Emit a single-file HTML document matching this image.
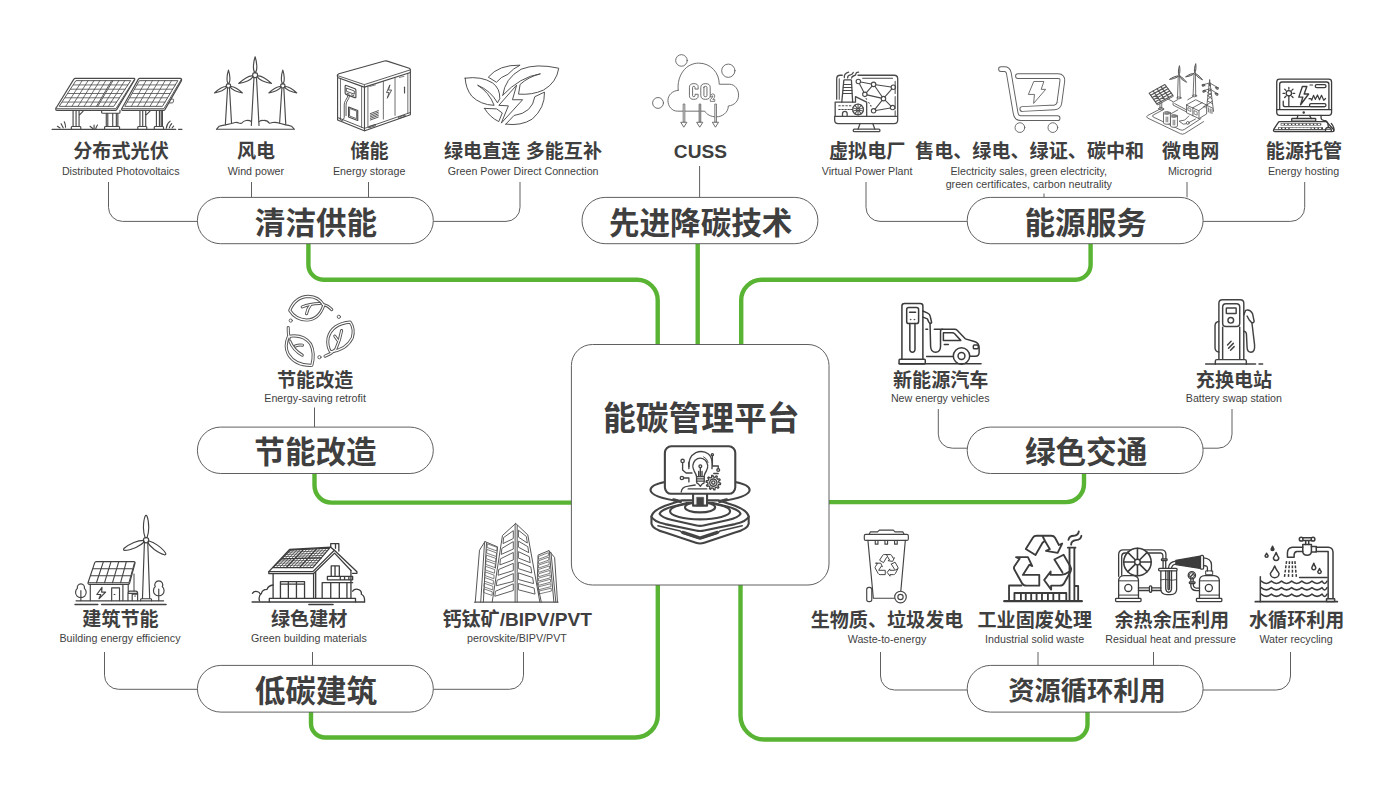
<!DOCTYPE html>
<html lang="zh"><head><meta charset="utf-8"><title>能碳管理平台</title>
<style>
html,body{margin:0;padding:0;background:#fff}
body{width:1400px;height:787px;position:relative;overflow:hidden;font-family:"Liberation Sans",sans-serif}
svg{position:absolute;left:0;top:0;display:block}
.t span{position:absolute;white-space:nowrap;color:transparent;overflow:hidden}
#text text{font-family:"Liberation Sans","Noto Sans CJK SC",sans-serif;fill:#3f3f3f;text-anchor:middle}
#text .c{font-size:19.1px;font-weight:700}
#text .e{font-size:10.7px;font-weight:400}
#text .h{font-size:30.6px;font-weight:700}
</style></head><body>
<svg width="1400" height="787" viewBox="0 0 1400 787">
<g id="structure"><path d="M308.4 243.5V264.7a15 15 0 0 0 15 15H637.2a20.5 20.5 0 0 1 20.5 20.5V344.5" fill="none" stroke="#58B432" stroke-width="4.4"/>
<path d="M697.7 243.5V344.5" fill="none" stroke="#58B432" stroke-width="4.4"/>
<path d="M1090.6 243.5V264.7a15 15 0 0 1 -15 15H761.7a20.5 20.5 0 0 0 -20.5 20.5V344.5" fill="none" stroke="#58B432" stroke-width="4.4"/>
<path d="M314.5 473.4V485.6a17 17 0 0 0 17 17H571.5" fill="none" stroke="#58B432" stroke-width="4.4"/>
<path d="M1084 473.4V484.1a18 18 0 0 1 -18 18H829" fill="none" stroke="#58B432" stroke-width="4.4"/>
<path d="M311 712V723.5a14 14 0 0 0 14 14H635.3a22.5 22.5 0 0 0 22.5 -22.5V585" fill="none" stroke="#58B432" stroke-width="4.4"/>
<path d="M1087.5 712V724.5a15 15 0 0 1 -15 15H764.5a24 24 0 0 1 -24 -24V585" fill="none" stroke="#58B432" stroke-width="4.4"/>
<path d="M108.5 182.0V207.4a14 14 0 0 0 14 14H197.4" fill="none" stroke="#606060" stroke-width="1"/>
<path d="M251.5 182.0V197.4" fill="none" stroke="#606060" stroke-width="1"/>
<path d="M368.5 182.0V197.4" fill="none" stroke="#606060" stroke-width="1"/>
<path d="M520.0 182.0V207.4a14 14 0 0 1 -14 14H433.3" fill="none" stroke="#606060" stroke-width="1"/>
<path d="M699.6 166.0V197.4" fill="none" stroke="#606060" stroke-width="1"/>
<path d="M866.0 182.0V207.4a14 14 0 0 0 14 14H967.2" fill="none" stroke="#606060" stroke-width="1"/>
<path d="M1044.0 193.5V197.4" fill="none" stroke="#606060" stroke-width="1"/>
<path d="M1187.0 182.0V197.4" fill="none" stroke="#606060" stroke-width="1"/>
<path d="M1304.7 182.0V207.4a14 14 0 0 1 -14 14H1203.1" fill="none" stroke="#606060" stroke-width="1"/>
<path d="M314.5 407.5V427.0" fill="none" stroke="#606060" stroke-width="1"/>
<path d="M938.3 409.0V434.2a14 14 0 0 0 14 14H967.2" fill="none" stroke="#606060" stroke-width="1"/>
<path d="M1232.0 409.0V434.2a14 14 0 0 1 -14 14H1203.1" fill="none" stroke="#606060" stroke-width="1"/>
<path d="M104.5 652.0V675.3a14 14 0 0 0 14 14H197.4" fill="none" stroke="#606060" stroke-width="1"/>
<path d="M312.5 652.0V665.5" fill="none" stroke="#606060" stroke-width="1"/>
<path d="M523.5 652.0V675.3a14 14 0 0 1 -14 14H433.3" fill="none" stroke="#606060" stroke-width="1"/>
<path d="M880.5 652.0V676.0a14 14 0 0 0 14 14H967.2" fill="none" stroke="#606060" stroke-width="1"/>
<path d="M1038.0 652.0V665.5" fill="none" stroke="#606060" stroke-width="1"/>
<path d="M1153.5 652.0V665.5" fill="none" stroke="#606060" stroke-width="1"/>
<path d="M1290.5 652.0V676.0a14 14 0 0 1 -14 14H1203.1" fill="none" stroke="#606060" stroke-width="1"/>
<rect x="197.4" y="197.4" width="235.9" height="46.3" rx="23.1" fill="#fff" stroke="#606060" stroke-width="1"/>
<rect x="582.0" y="197.4" width="235.9" height="46.3" rx="23.1" fill="#fff" stroke="#606060" stroke-width="1"/>
<rect x="967.2" y="197.4" width="235.9" height="46.3" rx="23.1" fill="#fff" stroke="#606060" stroke-width="1"/>
<rect x="197.4" y="427.1" width="235.9" height="46.4" rx="23.2" fill="#fff" stroke="#606060" stroke-width="1"/>
<rect x="967.2" y="427.1" width="235.9" height="46.4" rx="23.2" fill="#fff" stroke="#606060" stroke-width="1"/>
<rect x="197.4" y="665.4" width="235.9" height="46.7" rx="23.4" fill="#fff" stroke="#606060" stroke-width="1"/>
<rect x="967.2" y="665.4" width="235.9" height="46.7" rx="23.4" fill="#fff" stroke="#606060" stroke-width="1"/>
<rect x="571.4" y="344.5" width="257.6" height="240.5" rx="21" fill="#fff" stroke="#606060" stroke-width="1"/></g>
<g id="icons" fill="none" stroke="#4a4a4a" stroke-width="1.1" stroke-linecap="round" stroke-linejoin="round"><g transform="translate(45 65) scale(0.10714)" stroke-width="10.73"><path d="M282 125H830Q842 127 836 140L672 412Q668 420 658 424H112Q98 422 100 408Q102 400 108 394L268 134Q274 126 282 125Z"/><path d="M106 408H662L836 132" stroke-width="8.40"/><path d="M292 146H800L642 386H136Z" stroke-width="8.40"/><path d="M622 146L480 386M634 146L492 386" stroke-width="8.40"/><path d="M347 146L193 386M402 146L251 386M457 146L308 386M512 146L365 386M567 146L423 386M266 186L598 186M240 226L575 226M214 266L551 266M188 306L527 306M162 346L504 346" stroke-width="7.47"/><path d="M689 146L542 386M745 146L592 386M610 186L774 186M587 226L747 226M563 266L721 266M539 306L695 306M516 346L668 346" stroke-width="7.47"/><path d="M884 125H1262Q1280 128 1274 146L1122 412Q1116 424 1104 424H722Q712 422 716 408L870 134Q876 126 884 125Z"/><path d="M720 408H1110L1272 134" stroke-width="8.40"/><path d="M884 146H1240L1096 386H748Z" stroke-width="8.40"/><path d="M943 146L806 386M1003 146L864 386M1062 146L922 386M1121 146L980 386M1181 146L1038 386M861 186L1216 186M839 226L1192 226M816 266L1168 266M793 306L1144 306M771 346L1120 346" stroke-width="7.47"/><path d="M1180 318H1196Q1202 320 1200 330L1196 348Q1194 354 1186 354H1160" stroke-width="8.40"/><path d="M262 428V574M290 428V574M318 428V574M246 598V580Q246 574 254 574H326Q334 574 334 580V598M318 470L356 430"/><path d="M528 428V440Q528 450 540 450H690Q700 450 700 440V424M572 452V574M586 452V574M632 452V574M666 452V574M680 452V574M556 598V582Q556 574 566 574H686Q696 574 696 582V598"/><path d="M886 428V574M912 428V574M940 428V574M866 598V580Q866 574 874 574H942Q950 574 950 580V598M940 470L980 430"/><path d="M1040 428V574M1068 428V574M1084 428V574M1096 424V574M1020 598V580Q1020 574 1028 574H1098Q1106 574 1106 580V598"/><path d="M66 600H1220M1246 600H1278" stroke-width="12.13"/><path d="M116 572L140 588M150 548L170 586M180 530Q192 556 192 580M420 572L446 592M458 560V596M490 560Q478 576 474 594M1132 590Q1136 548 1168 524M1160 588Q1164 564 1182 548M1186 588L1200 570"/></g>
<g transform="translate(205 50) scale(0.11442)" stroke-width="10.05"><circle cx="438" cy="220" r="22"/><path d="M438 200C463 179 452 101 438 59C424 101 413 179 438 200Z"/><path d="M456 229C463 261 537 286 581 293C550 262 486 216 456 229Z"/><path d="M420 229C390 216 326 262 295 293C339 286 413 261 420 229Z"/><circle cx="205" cy="313" r="19"/><path d="M205 296C226 278 217 212 205 176C193 212 184 278 205 296Z"/><path d="M220 321C227 348 290 369 327 375C300 349 246 310 220 321Z"/><path d="M190 321C164 310 110 349 83 375C120 369 183 348 190 321Z"/><circle cx="680" cy="313" r="19"/><path d="M680 296C701 278 692 212 680 176C668 212 659 278 680 296Z"/><path d="M695 321C702 348 765 369 802 375C775 349 721 310 695 321Z"/><path d="M665 321C639 310 585 349 558 375C595 369 658 348 665 321Z"/><path d="M428 243L405 660M450 243L472 660"/><path d="M197 332L178 652M214 332L232 640"/><path d="M672 332L652 640M689 332L706 652"/><path d="M100 693H782L756 666Q730 656 706 654L652 640Q620 628 590 634Q575 640 562 640Q545 612 510 616Q490 614 472 626M100 693L124 666Q140 660 178 654L232 642L264 634Q280 630 296 638Q305 642 320 640Q335 620 360 616Q390 612 405 626"/></g>
<g transform="translate(325 50) scale(0.11442)" stroke-width="10.05"><path d="M122 208L520 96Q532 93 544 97L736 160Q748 166 746 178V196L352 322Q344 325 336 322L116 242Q108 238 108 228V220Q110 212 122 208Z"/><path d="M110 224L336 300Q344 303 352 300L744 174" stroke-width="7.87"/><path d="M344 304V322" stroke-width="7.87"/><path d="M110 240V612L338 704Q346 707 354 704L746 566V196"/><path d="M345 324V706"/><path d="M110 590L338 682Q346 685 354 682L746 546" stroke-width="7.87"/><path d="M135 252V600M320 318V678" stroke-width="6.99"/><path d="M375 316V672M510 274V604M612 242V572M724 206V556" stroke-width="6.99"/><path d="M176 316Q176 306 186 310L262 338Q270 342 270 352V410Q270 420 260 416L184 388Q176 384 176 374Z"/><path d="M190 334L256 358V386L190 362Z" stroke-width="7.87"/><path d="M192 378L212 385M232 392L252 399" stroke-width="7.87"/><path d="M200 396Q196 420 180 440Q168 456 168 480V590Q168 604 156 606M214 402Q210 426 194 446Q184 460 184 484V574" stroke-width="7.87"/><path d="M126 596Q130 616 156 620" stroke-width="7.87"/><path d="M206 498L286 528V616L206 586Z"/><path d="M218 512L276 534V600L218 578Z" stroke-width="6.99"/><path d="M396 556L466 530M396 570L466 544M396 584L466 558M396 598L466 572M396 612L466 586" stroke-width="7.87"/><path d="M566 308L538 372H560L544 422L582 350H558Z" stroke-width="7.87"/><path d="M695 325V375"/><path d="M392 318L440 306M650 240L690 230" stroke-width="6.12"/><path d="M386 668L440 650V662L386 680ZM646 586L700 568V580L646 598Z" stroke-width="7.87"/></g>
<g transform="translate(455 55) scale(0.10169)" stroke-width="9.34"><path d="M100 228Q260 205 370 275Q445 330 440 430L418 470Q350 350 222 297Q335 365 385 495Q250 490 165 405Q105 330 100 228Z"/><path d="M330 215Q430 95 640 100Q575 130 520 190Q450 215 410 265Z"/><path d="M470 395Q490 230 650 140Q800 80 1020 130Q1000 270 870 345Q760 395 625 385L640 290Q720 215 840 185Q640 215 470 395Z"/><path d="M605 300L565 440H665L455 670L525 500L435 495Z"/><path d="M500 680L580 595Q760 570 785 410L880 365Q885 520 760 630Q650 700 500 680Z"/><path d="M290 525L410 530L465 570L430 655Q340 610 290 525Z"/></g>
<g transform="translate(645 45) scale(0.12075)" stroke-width="7.45" stroke="#606060"><circle cx="302" cy="128" r="48"/><circle cx="690" cy="213" r="55"/><circle cx="108" cy="480" r="45"/><path d="M275 375C262 250 340 150 445 150C545 150 615 230 615 325H700C745 325 775 370 775 415C775 465 740 500 690 505C690 560 640 595 590 595C545 595 510 575 495 548H270C225 548 190 510 190 460C190 415 225 380 275 375"/><path d="M440 362V346Q440 320 404 320Q368 320 368 350V420Q368 450 404 450Q440 450 440 424V408H414V420Q414 428 404 428Q394 428 394 420V350Q394 342 404 342Q414 342 414 350V362Z" stroke-width="7.45" fill="#fff"/><path d="M462 350Q462 320 500 320Q540 320 540 350V420Q540 450 500 450Q462 450 462 420ZM488 350V420Q488 428 500 428Q513 428 513 420V350Q513 342 500 342Q488 342 488 350Z" stroke-width="7.45" fill="#fff" fill-rule="evenodd"/><path d="M542 426Q542 405 560 405Q578 405 578 422Q578 436 562 452H578V467H541V453Q562 432 562 424Q562 420 559 420Q556 420 556 428Z" stroke-width="6.63" fill="#fff"/><path d="M316 492V640H330V492Z" stroke-width="6.63" fill="#ececec"/><path d="M299 640H347L323 678Z" stroke-width="7.45" fill="#fff"/><path d="M448 492V640H462V492Z" stroke-width="6.63" fill="#b4b4b4"/><path d="M431 640H479L455 678Z" stroke-width="7.45" fill="#fff"/><path d="M578 492V640H592V492Z" stroke-width="6.63" fill="#ececec"/><path d="M561 640H609L585 678Z" stroke-width="7.45" fill="#fff"/></g>
<g transform="translate(825 60) scale(0.10167)" stroke-width="12.79"><path d="M170 150H150Q115 150 115 185V385M325 150H680Q715 150 715 185V590Q715 625 680 625H130Q95 625 95 590V555H715"/><path d="M370 180H665M690 210V330M690 360V480M690 500V545M140 185V385" stroke-width="9.84"/><path d="M345 625L325 680M470 625L490 680"/><rect x="278" y="680" width="262" height="25" rx="10"/><path d="M165 415L185 200Q186 195 192 195H254Q260 195 260 200L272 415"/><path d="M182 240H262M180 270H264M177 300H266M175 330H267" stroke-width="9.84"/><path d="M100 555V415H300V360L410 415V555"/><path d="M135 450H150M170 450H185M205 450H220M240 450H255M135 487H150M165 487H180M195 487H210M225 487H240M252 487H262" stroke-width="9.84"/><path d="M172 555V528Q172 505 195 505Q218 505 218 528V555"/><circle cx="325" cy="487" r="53"/><circle cx="325" cy="487" r="12" stroke-width="9.84"/><path d="M336 491L375 503M332 497L356 530M325 499L325 540M318 497L294 530M314 491L275 503M314 483L275 471M318 477L294 444M325 475L325 434M332 477L356 444M336 483L375 471" stroke-width="9.84"/><path d="M190 172Q186 135 232 120M222 176Q222 150 250 146Q275 140 278 122M262 178Q262 160 285 155Q305 150 305 132Q306 122 330 120"/><path d="M350 216L456 236M500 243L650 265M338 232L382 318M463 257L407 321M491 258L562 362M658 285L589 363M413 343L554 375M591 395L649 453M561 397L492 483M643 472L500 496" stroke-width="10.82"/><circle cx="328" cy="212" r="22" stroke-width="10.82"/><circle cx="478" cy="240" r="22" stroke-width="10.82"/><circle cx="672" cy="268" r="22" stroke-width="10.82"/><circle cx="392" cy="338" r="22" stroke-width="10.82"/><circle cx="575" cy="380" r="22" stroke-width="10.82"/><circle cx="665" cy="468" r="22" stroke-width="10.82"/><circle cx="478" cy="500" r="22" stroke-width="10.82"/><path d="M404 378L410 386M430 418L436 426M448 446L454 454" stroke-width="9.84"/></g>
<g transform="translate(985 55) scale(0.10804)" stroke-width="8.33" stroke="#606060"><path d="M305 195H675Q722 195 715 245L688 445Q682 480 645 484L345 500" stroke-width="52.8"/><path d="M305 195H675Q722 195 715 245L688 445Q682 480 645 484L345 500" stroke="#fff" stroke-width="35.2"/><path d="M148 130H180Q212 130 220 165L282 530Q290 585 330 585H672" stroke-width="52.8"/><path d="M148 130H180Q212 130 220 165L282 530Q290 585 330 585H672" stroke="#fff" stroke-width="35.2"/><circle cx="323" cy="672" r="45"/><circle cx="628" cy="672" r="45"/><path d="M455 245H545L520 318H562L450 448L458 365H405Z"/></g>
<g transform="translate(1140 55) scale(0.10169)" stroke-width="8.36" stroke="#555"><path d="M205 528L75 595Q55 608 75 620L400 775Q420 783 440 772L625 655"/><path d="M235 535L130 590Q115 600 130 610L395 735Q415 745 435 733L600 625"/><path d="M90 375L245 290L322 395L165 480Z" stroke-width="10.82"/><path d="M165 480L172 492L328 406L322 395"/><path d="M129 354L204 459M168 332L244 438M206 311L283 416M105 396L260 311M120 417L276 332M135 438L291 353M150 459L307 374" stroke-width="11.31"/><path d="M196 476V522M214 466V528M182 526L205 514L236 528L212 540Z"/><path d="M376 213L369 418M390 213L395 418"/><ellipse cx="382" cy="422" rx="22" ry="9"/><path d="M383 199C397 186 394 134 388 105C379 133 371 184 383 199Z" stroke-width="9.83" fill="#ccc"/><path d="M377 207C360 200 314 223 290 240C319 237 369 224 377 207Z" stroke-width="9.83" fill="#ccc"/><path d="M388 209C390 228 432 256 458 268C441 245 407 208 388 209Z" stroke-width="9.83" fill="#ccc"/><circle cx="383" cy="205" r="8" fill="#fff"/><path d="M531 188L522 398M545 188L548 398"/><ellipse cx="535" cy="402" rx="22" ry="9"/><path d="M539 174C553 162 552 112 548 85C538 111 527 159 539 174Z" stroke-width="9.83" fill="#ccc"/><path d="M532 182C515 175 471 198 448 215C476 212 524 199 532 182Z" stroke-width="9.83" fill="#ccc"/><path d="M543 184C545 203 589 232 615 245C598 221 562 183 543 184Z" stroke-width="9.83" fill="#ccc"/><circle cx="538" cy="180" r="8" fill="#fff"/><path d="M685 245L655 520M685 245L722 545M668 400L706 430M706 400L664 440M662 450L714 480M712 452L660 490M658 495L718 525M672 340L700 355M700 335L670 365M666 370L704 395M704 372L666 400M676 290L694 300M694 285L676 305"/><path d="M612 295L685 275L768 322M685 275V300M622 352L685 332L764 382M612 295L640 302M768 322L740 318M622 352L650 358M764 382L736 376"/><ellipse cx="624" cy="298" rx="12" ry="8" stroke-width="10.82" transform="rotate(-15 624 298)"/><ellipse cx="758" cy="326" rx="12" ry="8" stroke-width="10.82" transform="rotate(25 758 326)"/><ellipse cx="630" cy="356" rx="12" ry="8" stroke-width="10.82" transform="rotate(-15 630 356)"/><ellipse cx="755" cy="386" rx="12" ry="8" stroke-width="10.82" transform="rotate(25 755 386)"/><path d="M672 520V560M690 530V570M708 535V575M722 545V555"/><path d="M458 490L548 440L655 492L580 545ZM458 490V568L580 625V545M580 625L655 580V492" fill="#fff"/><path d="M520 518V598M520 518L612 468"/><path d="M474 518L500 530V556L474 544ZM535 548L562 560V592L535 580Z" stroke-width="6.88"/><path d="M622 510L640 500V520" stroke-width="6.88"/><path d="M270 430L330 462L372 438M325 470V492L458 560M342 478L458 540M372 540L300 580M480 600L440 640L385 650L425 680L455 676M485 662L545 630M470 440L520 410"/><circle cx="470" cy="668" r="14" fill="#fff"/><path d="M231 570V668A34 13 0 0 0 299 668V570" fill="#fff"/><ellipse cx="265" cy="570" rx="34" ry="13" fill="#fff"/><ellipse cx="265" cy="570" rx="20" ry="7" stroke-width="6.88"/><path d="M257 610V658M273 610V658" stroke-width="7.87"/><path d="M300 600V698A34 13 0 0 0 368 698V600" fill="#fff"/><ellipse cx="334" cy="600" rx="34" ry="13" fill="#fff"/><ellipse cx="334" cy="600" rx="20" ry="7" stroke-width="6.88"/><path d="M326 640V688M342 640V688" stroke-width="7.87"/></g>
<g transform="translate(1265 70) scale(0.08899)" stroke-width="14.61" stroke="#3c3c3c"><rect x="132" y="102" width="616" height="408" rx="32"/><path d="M165 445V160Q165 135 190 135H693Q718 135 718 160V445M132 445H748"/><circle cx="435" cy="478" r="7" fill="#3c3c3c"/><path d="M370 510L360 545M500 510L520 545M630 510V540Q632 562 660 566Q700 570 706 600L712 640"/><rect x="300" y="545" width="270" height="30" rx="8"/><path d="M165 580H680Q694 580 700 592L770 668Q780 690 756 692H112Q88 690 98 668L148 592Q154 580 165 580Z"/><path d="M102 672H680" stroke-width="11.24"/><path d="M176 611H632" stroke-width="26" stroke-linecap="butt"/><path d="M184 611H626" stroke="#fff" stroke-width="12" stroke-linecap="butt" stroke-dasharray="26 15"/><path d="M146 656H652" stroke-width="26" stroke-linecap="butt"/><path d="M154 656H646" stroke="#fff" stroke-width="12" stroke-linecap="butt" stroke-dasharray="26 15"/><path d="M300 656H512" stroke="#fff" stroke-width="12" stroke-linecap="butt"/><path d="M680 690V672Q682 645 712 645Q742 645 745 672V690M745 600Q785 650 772 690"/><path d="M690 665H735" stroke-width="11.24"/><circle cx="268" cy="262" r="30"/><path d="M314 262L334 262M301 295L315 309M235 295L221 309M222 262L202 262M235 229L221 215M268 216L268 196M301 229L315 215"/><path d="M268 295V410M205 350V390Q205 412 228 412H670"/><rect x="500" y="378" width="185" height="34" rx="17"/><rect x="565" y="165" width="120" height="33" rx="16"/><path d="M505 168H535" stroke-width="11.24"/><path d="M420 185H470L440 270H490L400 390L425 305H380Z" stroke-width="15.73"/><path d="M495 322H515L525 340L545 285L565 330L590 280L612 335L635 285L660 340L680 320" stroke-width="13.48"/></g>
<g transform="translate(275 285) scale(0.10169)" stroke-width="8.85" stroke="#555"><path d="M145 250Q200 115 330 112Q430 115 480 200Q430 345 310 345Q200 340 145 250Z" stroke-width="30.3"/><path d="M470 192Q520 200 558 242" stroke-width="30.3"/><path d="M268 215Q340 185 440 182" stroke-width="30.3"/><path d="M350 195Q320 230 310 282" stroke-width="30.3"/><path d="M145 250Q200 115 330 112Q430 115 480 200Q430 345 310 345Q200 340 145 250Z" stroke="#fff" stroke-width="11.7"/><path d="M470 192Q520 200 558 242" stroke="#fff" stroke-width="11.7"/><path d="M268 215Q340 185 440 182" stroke="#fff" stroke-width="11.7"/><path d="M350 195Q320 230 310 282" stroke="#fff" stroke-width="11.7"/><path d="M740 365Q560 380 522 520Q510 600 545 657Q700 640 760 520Q785 430 740 365Z" stroke-width="30.3"/><path d="M600 630Q550 680 492 700" stroke-width="30.3"/><path d="M600 625Q640 540 655 448" stroke-width="30.3"/><path d="M622 550L588 502" stroke-width="30.3"/><path d="M740 365Q560 380 522 520Q510 600 545 657Q700 640 760 520Q785 430 740 365Z" stroke="#fff" stroke-width="11.7"/><path d="M600 630Q550 680 492 700" stroke="#fff" stroke-width="11.7"/><path d="M600 625Q640 540 655 448" stroke="#fff" stroke-width="11.7"/><path d="M622 550L588 502" stroke="#fff" stroke-width="11.7"/><path d="M132 505Q280 480 350 580Q395 670 362 790Q200 795 130 680Q90 600 132 505Z" stroke-width="30.3"/><path d="M130 418Q128 470 140 520" stroke-width="30.3"/><path d="M145 550Q180 640 268 690" stroke-width="30.3"/><path d="M200 600Q235 585 270 592" stroke-width="30.3"/><path d="M132 505Q280 480 350 580Q395 670 362 790Q200 795 130 680Q90 600 132 505Z" stroke="#fff" stroke-width="11.7"/><path d="M130 418Q128 470 140 520" stroke="#fff" stroke-width="11.7"/><path d="M145 550Q180 640 268 690" stroke="#fff" stroke-width="11.7"/><path d="M200 600Q235 585 270 592" stroke="#fff" stroke-width="11.7"/><circle cx="628" cy="313" r="16"/><circle cx="155" cy="350" r="16"/><circle cx="437" cy="710" r="16"/></g>
<g transform="translate(890 295) scale(0.09533)" stroke-width="15.73" stroke="#3a3a3a"><path d="M125 672V115Q125 88 152 88H318Q345 88 345 115V672"/><rect x="95" y="675" width="275" height="48" rx="10"/><rect x="175" y="130" width="125" height="170" rx="22"/><path d="M205 182H268"/><circle cx="215" cy="258" r="5" stroke-width="5.25" fill="#3a3a3a"/><circle cx="255" cy="258" r="5" stroke-width="5.25" fill="#3a3a3a"/><path d="M208 300V575Q210 600 235 600Q260 600 262 575V300"/><path d="M345 168L395 190Q418 200 422 225L436 285Q436 298 420 296Q410 294 405 280L392 250L345 232"/><path d="M420 296L426 540Q430 600 478 600Q528 600 530 540V380Q530 358 552 358"/><path d="M376 358H395"/><path d="M465 358H680Q694 358 702 368L790 460L885 488Q935 505 935 550V600Q935 640 895 643H842M385 645H662"/><path d="M560 395H655Q668 395 676 405L742 476H560Z"/><path d="M570 520H612"/><rect x="874" y="525" width="52" height="40" rx="12"/><circle cx="750" cy="640" r="86" fill="#fff"/><circle cx="750" cy="640" r="36"/><path d="M95 722H955" stroke-width="15.73"/></g>
<g transform="translate(1195 290) scale(0.10165)" stroke-width="14.26" stroke="#424242"><path d="M235 682V130Q235 95 270 95H445Q480 95 480 130V682"/><rect x="272" y="135" width="168" height="225" rx="32"/><path d="M272 365V682M440 365V682"/><rect x="308" y="178" width="97" height="54" rx="4"/><circle cx="352" cy="298" r="28"/><path d="M320 540L355 505M330 572L377 525M350 592L385 557"/><path d="M235 310Q200 312 197 350V570Q200 606 235 610"/><path d="M200 730V700Q200 685 215 685H490Q505 685 505 700V730"/><path d="M105 728H595M630 728H665" stroke-width="15.74"/><path d="M480 245L498 200Q540 185 566 232L582 308Q578 326 556 320L532 292L512 256"/><path d="M560 322L586 540Q592 612 550 612Q514 612 512 560L506 432Q502 406 480 405"/></g>
<g transform="translate(640 440) scale(0.13970)" stroke-width="15.03" stroke="#444"><path d="M82 548V600Q90 640 180 662L400 736Q430 746 460 736L680 662Q770 640 778 600V548" fill="#fff"/><path d="M82 548Q90 505 180 470L300 432H560L680 470Q770 505 778 548Q765 582 680 602L460 648Q430 655 400 648L180 602Q95 582 82 548Z" fill="#fff"/><path d="M140 528Q150 500 230 478L330 452H530L630 478Q710 500 720 528Q705 556 630 572L455 612Q430 618 405 612L230 572Q155 556 140 528Z"/><path d="M128 614L288 652L304 668L418 706Q430 710 442 706L556 668L572 652L732 614" stroke-width="10.74"/><path d="M306 660L420 698Q430 702 440 698L554 660" stroke-width="21.48"/><ellipse cx="430" cy="510" rx="215" ry="58"/><ellipse cx="430" cy="482" rx="108" ry="36" fill="#fff"/><path d="M178 300Q75 320 75 358Q78 410 290 440M682 300Q785 320 785 358Q782 410 570 440"/><path d="M240 428L290 440M620 428L570 440" stroke-width="21.48"/><path d="M380 385V470H480V385" fill="#fff"/><rect x="406" y="410" width="50" height="62" stroke-width="3.58" fill="#444"/><rect x="178" y="45" width="504" height="340" stroke-width="15.03" fill="#fff" rx="46"/><path d="M350 205Q340 120 400 90Q450 70 490 100Q525 130 515 205" stroke-width="9.66"/><path d="M405 262Q400 240 388 222Q365 180 395 145Q430 115 468 145Q498 180 475 222Q462 240 458 262Z" stroke-width="9.66"/><path d="M405 262V300Q405 312 418 314L432 332L446 314Q460 312 460 300V262M405 278H460M405 294H460" stroke-width="9.66"/><circle cx="432" cy="188" r="10" stroke-width="9.66"/><path d="M432 198V262M420 262V225M444 262V225" stroke-width="9.66"/><path d="M455 120Q480 130 488 160" stroke-width="6.44"/><circle cx="305" cy="150" r="12" stroke-width="9.66"/><circle cx="300" cy="272" r="12" stroke-width="9.66"/><circle cx="518" cy="106" r="8" stroke-width="9.66"/><circle cx="560" cy="215" r="10" stroke-width="9.66"/><path d="M305 162V215L330 236H372M312 272H350V300M518 114V180M520 186H560V205M528 240H560M350 160V190" stroke-width="9.66"/><path d="M565 305L577 309L575 319L563 318L557 329L565 339L558 345L548 338L537 343L537 356L528 357L524 345L513 343L505 353L497 349L501 337L493 329L481 332L476 324L487 316L485 305L473 301L475 291L487 292L493 281L485 271L492 265L502 272L513 267L513 254L522 253L526 265L537 267L545 257L553 261L549 273L557 281L569 278L574 286L563 294Z" stroke-width="9.66"/><circle cx="525" cy="305" r="26" stroke-width="9.66"/><circle cx="525" cy="305" r="12" stroke-width="9.66"/><path d="M295 372Q298 336 345 330L395 322M345 350H478" stroke-width="9.66"/></g>
<g transform="translate(70 510) scale(0.12077)" stroke-width="9.52" stroke="#424242"><path d="M218 428H528Q542 428 538 442L494 604Q490 616 478 616H158Q146 614 150 600L204 438Q208 428 218 428Z"/><path d="M152 602H488L534 436" stroke-width="8.28"/><path d="M276 430L219 602M339 430L286 602M403 430L352 602M466 430L419 602M192 487L515 487M172 545L501 545" stroke-width="9.11"/><path d="M168 616V750M438 616V750M482 616V672"/><path d="M265 640L222 700H255L240 735L295 680H262Z"/><path d="M345 750V645H410V750M365 700H372"/><path d="M480 750V690Q480 672 495 672H545Q560 672 560 690V750M480 690H560M515 750V698H560M536 712H542"/><path d="M530 530V672" stroke-width="8.28"/><circle cx="630" cy="250" r="22"/><path d="M637 232C645 210 652 176 652 148C652 101 643 64 638 51C634 43 626 43 622 51C617 64 608 101 608 148C608 176 615 210 623 232"/><path d="M611 251C587 251 554 258 529 269C486 287 456 310 446 319C441 326 444 334 452 334C466 334 503 328 546 310C571 299 599 280 616 263"/><path d="M641 266C653 286 676 310 698 327C735 353 769 368 782 371C791 372 796 365 792 358C785 346 761 318 724 291C702 275 671 261 648 255"/><path d="M616 272L600 735M644 272L660 735M585 752V742Q585 735 592 735H668Q675 735 675 742V752"/><path d="M61 649A30 30 0 1 1 119 649A44 44 0 1 1 61 649ZM90 668V750"/><path d="M706 635A33 33 0 1 1 764 635A44 44 0 1 1 706 635ZM735 654V750"/><path d="M50 752H775"/><path d="M42 782H230M262 782H795" stroke-width="13.25"/></g>
<g transform="translate(245 535) scale(0.09527)" stroke-width="13.64" stroke="#3c3c3c"><path d="M250 385L468 152L900 128L938 160L1175 385V402H1128M250 385V405H720L940 190L1112 372"/><path d="M250 385H712L938 160" stroke-width="12.60"/><path d="M512 156L327 342M546 155L362 342M580 153L397 342M615 151L432 342M649 150L467 342M683 148L502 342M717 146L537 342M751 145L572 342M786 143L607 342M820 141L642 342M854 140L677 342M455 181L866 164M432 204L844 189M408 227L822 214M385 250L800 240M362 273L778 266M338 296L756 291M315 319L734 316" stroke-width="7.87"/><path d="M615 151L432 342M751 145L572 342M385 250L800 240" stroke-width="13.64"/><path d="M478 158L888 138L712 342H292Z" stroke-width="12.60"/><path d="M900 128V90H985V168M950 92V140"/><path d="M295 405V665M720 405V665M742 392V665M1112 372V665"/><path d="M372 665V490H625V665M455 490V665M540 490V665M372 515H625"/><path d="M905 435V325H990V435M945 325V435"/><path d="M865 435H1130V470H865ZM1000 435V470M1045 435V470M1090 435V470"/><path d="M810 665V500H1130M900 500V665M990 500V665M1070 500V665"/><path d="M255 702V665H1160V702"/><path d="M75 702H1255" stroke-width="15.74"/><path d="M670 730H925" stroke-width="14.69"/><path d="M78 612Q95 585 130 595Q152 600 158 616M152 692Q138 640 172 615Q180 570 232 570Q245 530 295 525"/><path d="M1130 590Q1150 560 1185 570Q1226 580 1222 622Q1260 640 1255 700"/></g>
<g transform="translate(465 515) scale(0.12077)" stroke-width="8.28" stroke="#555"><path d="M165 220L120 292L85 722M165 220L270 264L252 440M162 226L130 722M178 232L152 722"/><path d="M188 240L266 268L264 298L186 270ZM184 286L261 314L259 344L182 316ZM180 333L256 360L254 390L178 363ZM177 380L251 406L249 436L175 410ZM173 426L246 452L244 482L171 456ZM169 472L241 498L239 528L167 502ZM166 519L236 544L234 574L164 549ZM162 566L231 590L229 620L160 596ZM158 612L226 636L224 666L156 642Z" stroke-width="6.21"/><path d="M695 295L605 332L598 560L632 722M695 295L742 352L766 722M698 302L736 722M712 312L752 722"/><path d="M612 342L690 312L691 336L612 366ZM612 378L693 349L694 373L612 402ZM612 414L696 386L697 410L612 438ZM612 450L699 422L700 446L612 474ZM612 486L702 459L703 483L612 510ZM612 522L705 496L706 520L612 546ZM612 558L708 532L709 556L612 582ZM612 594L711 569L712 593L612 618ZM612 630L714 606L715 630L612 654Z" stroke-width="6.21"/><path d="M420 70L310 170L225 722M420 70L520 165L620 722M415 76V722M432 86V722"/><path d="M322 185L400 130L400 195L318 235ZM308 275L400 220L400 282L303 325ZM296 362L400 310L400 372L292 412ZM282 450L400 400L400 460L277 498ZM268 540L400 485L400 550L262 585ZM255 630L400 570L400 625L250 672ZM445 128L508 178L516 232L445 185ZM445 218L520 262L528 312L445 268ZM445 305L532 345L540 395L445 358ZM445 392L545 430L553 480L445 445ZM445 480L560 518L568 568L445 535ZM445 568L572 605L580 655L445 620Z" stroke-width="7.87"/><path d="M80 722H770" stroke-width="9.94"/></g>
<g transform="translate(845 515) scale(0.12064)" stroke-width="9.53" stroke="#444"><rect x="160" y="160" width="365" height="50" rx="12"/><path d="M200 160L210 140H270L285 125H400L415 140H480L490 160"/><path d="M190 210L235 690H410M500 210L462 638"/><path d="M251 212V242H273V212M331 212V242H353V212M411 212V242H433V212"/><circle cx="460" cy="680" r="48" fill="#fff"/><circle cx="460" cy="680" r="22"/><rect x="180" y="600" width="42" height="118" fill="#fff" rx="18"/><g transform="translate(186 292) scale(0.360)" stroke-width="23.0"><path d="M285 222L352 115Q362 100 385 100H522Q545 100 556 118L592 185L622 172L580 258L472 240L508 224L462 146L440 165L375 278ZM440 102L462 146"/><path d="M195 298H305L345 380L318 368L258 462H410V562H292Q262 562 250 540L178 410Q172 395 180 382L228 312Z"/><path d="M550 320L635 275L698 385Q712 408 700 430L640 540Q628 562 600 562H520V598L455 510L515 430V462H612Q650 460 690 430M550 320L625 440"/></g></g>
<g transform="translate(995 525) scale(0.10799)" stroke-width="17.13" stroke="#3c3c3c"><path d="M285 222L352 115Q362 100 385 100H522Q545 100 556 118L592 185L622 172L580 258L472 240L508 224L462 146L440 165L375 278ZM440 102L462 146"/><path d="M195 298H305L345 380L318 368L258 462H410V562H292Q262 562 250 540L178 410Q172 395 180 382L228 312Z"/><path d="M550 320L635 275L698 385Q712 408 700 430L640 540Q628 562 600 562H520V598L455 510L515 430V462H612Q650 460 690 430M550 320L625 440"/><path d="M85 705H805" stroke-width="19.45"/><path d="M130 705V560H245"/><path d="M180 705V630H660V705M240 630V705M285 630V705M335 630V705M385 630V705M435 630V705M490 630V705M540 630V705M595 630V705"/><path d="M675 210H745M690 210V705M735 210V705M745 565H770V705"/><path d="M680 138Q688 100 730 100Q770 96 776 60M705 182Q705 146 750 140Q795 135 800 100"/></g>
<g transform="translate(1110 530) scale(0.10168)" stroke-width="12.79" stroke="#3c3c3c"><path d="M85 455V238Q88 196 130 195H510Q548 198 550 240V285M115 452V258Q117 228 146 226H500Q518 228 520 250V285"/><rect x="506" y="285" width="56" height="16" fill="#fff" rx="5"/><path d="M522 301V378M548 301V378"/><circle cx="270" cy="315" r="135" stroke-width="15.74" fill="#fff"/><path d="M298 315L405 315M290 335L365 410M270 343L270 450M250 335L175 410M242 315L135 315M250 295L175 220M270 287L270 180M290 295L365 220" stroke-width="15.74"/><circle cx="270" cy="315" r="28" stroke-width="14.75" fill="#fff"/><path d="M85 670V492Q89 450 137 448H228Q276 452 280 492V670" fill="#fff"/><path d="M85 500H280M85 640H280" stroke-width="9.83"/><rect x="55" y="672" width="250" height="33" fill="#fff" rx="8"/><circle cx="180" cy="570" r="35"/><path d="M880 670V492Q884 450 932 448H1023Q1071 452 1075 492V670" fill="#fff"/><path d="M880 500H1075M880 640H1075" stroke-width="9.83"/><rect x="850" y="672" width="250" height="33" fill="#fff" rx="8"/><circle cx="972" cy="570" r="35"/><path d="M280 570H500M280 595H500"/><rect x="388" y="550" width="22" height="62" fill="#fff" rx="9"/><path d="M500 402V588Q504 634 560 636H598Q650 634 655 588V402"/><rect x="478" y="378" width="182" height="24" fill="#fff" rx="10"/><path d="M500 490Q540 482 578 490Q615 498 655 488" stroke-width="8.85"/><path d="M548 402V578Q552 612 577 612Q602 612 605 578V402M570 402V575Q571 588 577 588Q584 588 585 575V402"/><path d="M575 378Q578 312 648 306M605 378Q608 340 650 336"/><path d="M648 298L886 258V378L648 340Z" fill="#3c3c3c"/><rect x="890" y="250" width="30" height="135" fill="#fff" rx="12"/><path d="M920 275Q995 280 998 342V402M920 350L948 354Q958 358 958 372V402"/><path d="M945 402H1010V440H945Z" stroke-width="9.83"/><circle cx="805" cy="445" r="36"/><circle cx="805" cy="445" r="25" stroke-width="8.85"/><path d="M791 460L820 430"/><path d="M795 480V510M818 480V510M795 526V552Q800 594 850 596H880M820 526V546Q824 570 850 571H880"/><rect x="780" y="510" width="56" height="16" fill="#fff" rx="6"/></g>
<g transform="translate(1245 525) scale(0.10799)" stroke-width="13.89" stroke="#3c3c3c"><path d="M95 710H855" stroke-width="15.74"/><path d="M142 480V710"/><path d="M150 520Q197 562 244 520Q291 562 338 520Q385 562 432 520Q479 562 526 520Q573 562 620 520Q667 562 714 520Q737 562 760 520"/><path d="M150 580Q197 622 244 580Q291 622 338 580Q385 622 432 580Q479 622 526 580Q573 622 620 580Q667 622 714 580Q737 622 760 580"/><path d="M150 640Q197 682 244 640Q291 682 338 640Q385 682 432 640Q479 682 526 640Q573 682 620 640Q667 682 714 640Q737 682 760 640"/><path d="M505 485H760"/><path d="M770 690V245H660M815 690V250Q812 206 770 205H660"/><rect x="755" y="682" width="75" height="26" fill="#fff" rx="4"/><path d="M615 200H660V250H615"/><path d="M535 180H615V250Q610 280 575 280Q540 280 535 250Z"/><path d="M562 150V180M590 150V180"/><path d="M530 119H620V143H530Z"/><circle cx="520" cy="131" r="17" fill="#fff"/><circle cx="630" cy="131" r="17" fill="#fff"/><path d="M535 205H440Q396 208 393 255V298H455V272Q458 248 482 245H535"/><path d="M385 335L365 485M412 335L402 485M438 335L440 485M462 335L476 485" stroke-dasharray="26 14" stroke-linecap="butt"/><path d="M275 380Q287 414 315 448A40 40 0 1 1 235 448Q263 414 275 380Z"/><path d="M288 255Q296 278 313 304A25 25 0 1 1 263 304Q280 278 288 255Z"/><path d="M255 196Q259 209 268 224A13 13 0 1 1 242 224Q251 209 255 196Z" fill="#3c3c3c"/><path d="M200 262Q204 273 214 285A14 14 0 1 1 186 285Q196 273 200 262Z"/><path d="M637 355Q642 372 654 391A18 18 0 1 1 620 391Q632 372 637 355Z"/><path d="M690 402Q695 416 706 432A16 16 0 1 1 674 432Q685 416 690 402Z"/></g></g>
<g id="text">
<text class="c" x="121.0" y="158">分布式光伏</text>
<text class="e" x="120.7" y="175.1">Distributed Photovoltaics</text>
<text class="c" x="256.0" y="158">风电</text>
<text class="e" x="255.9" y="175.1">Wind power</text>
<text class="c" x="369.5" y="158">储能</text>
<text class="e" x="369.2" y="175.1">Energy storage</text>
<text class="c" x="523.0" y="158">绿电直连 多能互补</text>
<text class="e" x="523.1" y="175.1">Green Power Direct Connection</text>
<text class="c" x="700.4" y="158">CUSS</text>
<text class="c" x="867.2" y="158">虚拟电厂</text>
<text class="e" x="867.1" y="175.1">Virtual Power Plant</text>
<text class="c" x="1029.6" y="158">售电、绿电、绿证、碳中和</text>
<text class="e" x="1028.8" y="175.1">Electricity sales, green electricity,</text>
<text class="e" x="1028.8" y="187.5">green certificates, carbon neutrality</text>
<text class="c" x="1190.6" y="158">微电网</text>
<text class="e" x="1189.9" y="175.1">Microgrid</text>
<text class="c" x="1304.0" y="158">能源托管</text>
<text class="e" x="1303.6" y="175.1">Energy hosting</text>
<text class="c" x="315.2" y="386.9">节能改造</text>
<text class="e" x="315.1" y="401.6">Energy-saving retrofit</text>
<text class="c" x="940.7" y="386.9">新能源汽车</text>
<text class="e" x="940.2" y="401.6">New energy vehicles</text>
<text class="c" x="1234.0" y="386.9">充换电站</text>
<text class="e" x="1233.9" y="401.6">Battery swap station</text>
<text class="c" x="120.5" y="625.7">建筑节能</text>
<text class="e" x="120.0" y="642.2">Building energy efficiency</text>
<text class="c" x="309.2" y="625.7">绿色建材</text>
<text class="e" x="308.9" y="642.2">Green building materials</text>
<text class="c" x="517.2" y="625.7">钙钛矿/BIPV/PVT</text>
<text class="e" x="516.9" y="642.2">perovskite/BIPV/PVT</text>
<text class="c" x="887.0" y="626.8">生物质、垃圾发电</text>
<text class="e" x="887.0" y="643.2">Waste-to-energy</text>
<text class="c" x="1034.8" y="626.8">工业固废处理</text>
<text class="e" x="1034.7" y="643.2">Industrial solid waste</text>
<text class="c" x="1171.8" y="626.8">余热余压利用</text>
<text class="e" x="1170.7" y="643.2">Residual heat and pressure</text>
<text class="c" x="1296.7" y="626.8">水循环利用</text>
<text class="e" x="1296.0" y="643.2">Water recycling</text>
<text class="h" x="316.0" y="233.6">清洁供能</text>
<text class="h" x="700.7" y="233.6">先进降碳技术</text>
<text class="h" x="1085.7" y="233.6">能源服务</text>
<text class="h" x="315.5" y="463.1">节能改造</text>
<text class="h" x="1086.1" y="463.1">绿色交通</text>
<text class="h" x="315.9" y="702">低碳建筑</text>
<text x="1086.9" y="700.1" font-size="26.25" font-weight="700">资源循环利用</text>
<text x="701.2" y="430.2" font-size="32.75" font-weight="700">能碳管理平台</text>
</g>
</svg>
<div class="t"><span style="left:72.2px;top:140.8px;width:97.6px;font-size:17.2px;font-weight:900;line-height:21.0px">分布式光伏</span>
<span style="left:54.0px;top:165.4px;width:133.4px;font-size:9.7px;font-weight:500;line-height:11.8px">Distributed Photovoltaics</span>
<span style="left:235.9px;top:140.8px;width:40.2px;font-size:17.2px;font-weight:900;line-height:21.0px">风电</span>
<span style="left:224.2px;top:165.4px;width:63.3px;font-size:9.7px;font-weight:500;line-height:11.8px">Wind power</span>
<span style="left:349.4px;top:140.8px;width:40.2px;font-size:17.2px;font-weight:900;line-height:21.0px">储能</span>
<span style="left:329.7px;top:165.4px;width:79.0px;font-size:9.7px;font-weight:500;line-height:11.8px">Energy storage</span>
<span style="left:443.3px;top:140.8px;width:159.3px;font-size:17.2px;font-weight:900;line-height:21.0px">绿电直连 多能互补</span>
<span style="left:441.6px;top:165.4px;width:163.1px;font-size:9.7px;font-weight:500;line-height:11.8px">Green Power Direct Connection</span>
<span style="left:673.5px;top:140.8px;width:53.8px;font-size:17.2px;font-weight:900;line-height:21.0px">CUSS</span>
<span style="left:828.0px;top:140.8px;width:78.5px;font-size:17.2px;font-weight:900;line-height:21.0px">虚拟电厂</span>
<span style="left:816.5px;top:165.4px;width:101.2px;font-size:9.7px;font-weight:500;line-height:11.8px">Virtual Power Plant</span>
<span style="left:928.2px;top:140.8px;width:202.8px;font-size:17.2px;font-weight:900;line-height:21.0px">售电、绿电、绿证、碳中和</span>
<span style="left:941.8px;top:165.4px;width:174.0px;font-size:9.7px;font-weight:500;line-height:11.8px">Electricity sales, green electricity,</span>
<span style="left:935.7px;top:177.8px;width:186.1px;font-size:9.7px;font-weight:500;line-height:11.8px">green certificates, carbon neutrality</span>
<span style="left:1160.9px;top:140.8px;width:59.4px;font-size:17.2px;font-weight:900;line-height:21.0px">微电网</span>
<span style="left:1164.4px;top:165.4px;width:51.0px;font-size:9.7px;font-weight:500;line-height:11.8px">Microgrid</span>
<span style="left:1264.8px;top:140.8px;width:78.5px;font-size:17.2px;font-weight:900;line-height:21.0px">能源托管</span>
<span style="left:1264.2px;top:165.4px;width:78.8px;font-size:9.7px;font-weight:500;line-height:11.8px">Energy hosting</span>
<span style="left:275.9px;top:369.7px;width:78.5px;font-size:17.2px;font-weight:900;line-height:21.0px">节能改造</span>
<span style="left:258.1px;top:391.9px;width:113.9px;font-size:9.7px;font-weight:500;line-height:11.8px">Energy-saving retrofit</span>
<span style="left:891.9px;top:369.7px;width:97.6px;font-size:17.2px;font-weight:900;line-height:21.0px">新能源汽车</span>
<span style="left:886.8px;top:391.9px;width:106.7px;font-size:9.7px;font-weight:500;line-height:11.8px">New energy vehicles</span>
<span style="left:1194.7px;top:369.7px;width:78.5px;font-size:17.2px;font-weight:900;line-height:21.0px">充换电站</span>
<span style="left:1179.8px;top:391.9px;width:108.2px;font-size:9.7px;font-weight:500;line-height:11.8px">Battery swap station</span>
<span style="left:81.2px;top:608.5px;width:78.5px;font-size:17.2px;font-weight:900;line-height:21.0px">建筑节能</span>
<span style="left:52.8px;top:632.5px;width:134.4px;font-size:9.7px;font-weight:500;line-height:11.8px">Building energy efficiency</span>
<span style="left:269.9px;top:608.5px;width:78.5px;font-size:17.2px;font-weight:900;line-height:21.0px">绿色建材</span>
<span style="left:244.5px;top:632.5px;width:128.7px;font-size:9.7px;font-weight:500;line-height:11.8px">Green building materials</span>
<span style="left:438.6px;top:608.5px;width:157.2px;font-size:17.2px;font-weight:900;line-height:21.0px">钙钛矿/BIPV/PVT</span>
<span style="left:462.6px;top:632.5px;width:108.6px;font-size:9.7px;font-weight:500;line-height:11.8px">perovskite/BIPV/PVT</span>
<span style="left:814.3px;top:609.6px;width:145.4px;font-size:17.2px;font-weight:900;line-height:21.0px">生物质、垃圾发电</span>
<span style="left:843.4px;top:633.5px;width:87.1px;font-size:9.7px;font-weight:500;line-height:11.8px">Waste-to-energy</span>
<span style="left:976.4px;top:609.6px;width:116.7px;font-size:17.2px;font-weight:900;line-height:21.0px">工业固废处理</span>
<span style="left:978.7px;top:633.5px;width:111.9px;font-size:9.7px;font-weight:500;line-height:11.8px">Industrial solid waste</span>
<span style="left:1113.4px;top:609.6px;width:116.7px;font-size:17.2px;font-weight:900;line-height:21.0px">余热余压利用</span>
<span style="left:1100.2px;top:633.5px;width:140.9px;font-size:9.7px;font-weight:500;line-height:11.8px">Residual heat and pressure</span>
<span style="left:1247.9px;top:609.6px;width:97.6px;font-size:17.2px;font-weight:900;line-height:21.0px">水循环利用</span>
<span style="left:1255.2px;top:633.5px;width:81.5px;font-size:9.7px;font-weight:500;line-height:11.8px">Water recycling</span>
<span style="left:253.8px;top:206.1px;width:124.4px;font-size:27.5px;font-weight:700;line-height:33.7px">清洁供能</span>
<span style="left:607.9px;top:206.1px;width:185.6px;font-size:27.5px;font-weight:700;line-height:33.7px">先进降碳技术</span>
<span style="left:1023.5px;top:206.1px;width:124.4px;font-size:27.5px;font-weight:700;line-height:33.7px">能源服务</span>
<span style="left:253.3px;top:435.6px;width:124.4px;font-size:27.5px;font-weight:700;line-height:33.7px">节能改造</span>
<span style="left:1023.9px;top:435.6px;width:124.4px;font-size:27.5px;font-weight:700;line-height:33.7px">绿色交通</span>
<span style="left:253.7px;top:674.5px;width:124.4px;font-size:27.5px;font-weight:700;line-height:33.7px">低碳建筑</span>
<span style="left:1007.1px;top:676.5px;width:159.5px;font-size:23.6px;font-weight:700;line-height:28.9px">资源循环利用</span>
<span style="left:602.0px;top:400.7px;width:198.5px;font-size:29.5px;font-weight:700;line-height:36.0px">能碳管理平台</span></div>
</body></html>
